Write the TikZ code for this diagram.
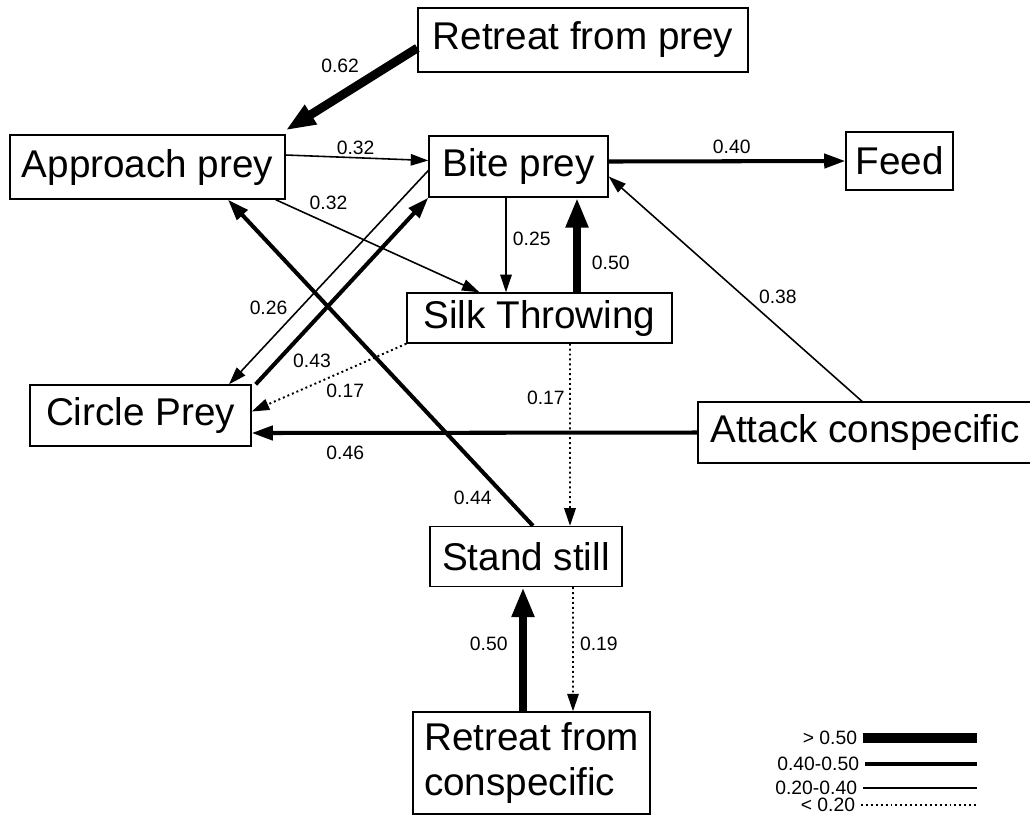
\documentclass[tikz,border=0pt]{standalone}
\usepackage{fontspec}
\setmainfont{Liberation Sans}
\usetikzlibrary{arrows.meta,calc}
\newcommand{\boxfont}{\fontsize{22}{25.5}\selectfont}
\newcommand{\numfont}{\fontsize{11}{13}\selectfont}

\begin{document}
\begin{tikzpicture}[x=0.02cm,y=-0.02cm,
  box/.style={draw,line width=0.8pt,inner sep=0pt,font=\boxfont,align=center},
  num/.style={font=\numfont,inner sep=1.5pt},
  p1/.style={line width=1.1pt,dash pattern=on 1.1pt off 1.7pt,-{Triangle[length=10pt,width=6.5pt]}},
  p2/.style={line width=0.9pt,-{Triangle[length=10pt,width=6.5pt]}},
  p3/.style={line width=2.3pt,-{Triangle[length=12pt,width=8pt]}},
  p4/.style={line width=5pt,-{Triangle[length=17pt,width=12pt]}}]
  \fill[white] (0,0) rectangle (1030,816);
  \useasboundingbox (0,0) rectangle (1030,816);
  \node[box,minimum width=6.6cm,minimum height=1.28cm] (rp) at (583,40) {Retreat from prey};
  \node[box,minimum width=5.5cm,minimum height=1.28cm] (ap) at (147.5,167) {Approach prey};
  \node[box,minimum width=3.58cm,minimum height=1.22cm] (bp) at (518.5,166.5) {Bite prey};
  \node[box,minimum width=2.14cm,minimum height=1.16cm] (fd) at (899.5,161) {Feed};
  \node[box,minimum width=5.3cm,minimum height=1cm] (st) at (539.5,318) {Silk Throwing};
  \node[box,minimum width=4.42cm,minimum height=1.22cm] (cp) at (140.5,415.5) {Circle Prey};
  \node[box,minimum width=6.68cm,minimum height=1.22cm] (ac) at (865,432.5) {Attack conspecific};
  \node[box,minimum width=3.84cm,minimum height=1.2cm] (ss) at (526,556.5) {Stand still};
  \node[box,align=left,minimum width=4.74cm,minimum height=2.04cm] (rc) at (531.5,763) {Retreat from\\conspecific};
  \draw[p4] ($(rp.west)+(0,8)$) -- ($(ap.north east)+(0,-4)$) node[num,pos=0.39,anchor=south east] {0.62};
  \draw[p2] ($(ap.east)+(0,-12)$) -- ($(bp.west)+(0,-6)$) node[num,pos=0.49,above] {0.32};
  \draw[p2] ($(ap.south east)+(-10,0)$) -- ($(st.north)+(-60,0)$) node[num,pos=0.15,anchor=south west] {0.32};
  \draw[p2] ($(bp.west)+(0,4)$) -- ($(cp.north)+(88.5,0)$) node[num,pos=0.69,anchor=south east] {0.26};
  \draw[p3] ($(cp.north east)+(4,0)$) -- (bp.south west) node[num,pos=0.19,anchor=north west] {0.43};
  \draw[p3] ($(ss.north)+(7,0)$) -- ($(ap.south)+(80.5,0)$) node[num,pos=0.086,left=6pt] {0.44};
  \draw[p2] ($(bp.south)+(-12.5,0)$) -- ($(st.north)+(-33.5,0)$) node[num,pos=0.44,right=2pt] {0.25};
  \draw[p4] ($(st.north)+(37.5,0)$) -- ($(bp.south)+(58.5,0)$) node[num,pos=0.31,right=4.5pt] {0.50};
  \draw[p3] ($(bp.east)+(0,-5)$) -- (fd.west) node[num,pos=0.52,above=1.5pt] {0.40};
  \draw[p2] ($(ac.north)+(-3,0)$) -- ($(bp.east)+(0,10)$) node[num,pos=0.42,anchor=south west] {0.38};
  \draw[p1] (st.south west) -- ($(cp.east)+(0,-4)$) node[num,pos=0.54,anchor=north west] {0.17};
  \draw[p3] (ac.west) -- ($(cp.east)+(0,17.5)$) node[num,pos=0.79,below=5pt] {0.46};
  \draw[p1] ($(st.south)+(30.5,0)$) -- ($(ss.north)+(44,0)$) node[num,pos=0.30,left=1pt] {0.17};
  \draw[p4] ($(rc.north)+(-8.5,0)$) -- ($(ss.south)+(-3,0)$) node[num,pos=0.54,left=4.8pt] {0.50};
  \draw[p1] ($(ss.south)+(47,0)$) -- ($(rc.north)+(41.5,0)$) node[num,pos=0.46,right=2pt] {0.19};
  \node[num,anchor=east] (l1) at (860,738) {> 0.50};
  \node[num,anchor=east] (l2) at (862,764) {0.40-0.50};
  \node[num,anchor=east] (l3) at (860,788) {0.20-0.40};
  \node[num,anchor=east] (l4) at (858,805) {< 0.20};
  \draw[line width=5.7pt] (l1.east) ++(3,0) -- ++(114,0);
  \draw[line width=2.3pt] (l2.east) ++(3,0) -- ++(112,0);
  \draw[line width=0.9pt] (l3.east) ++(3,0) -- ++(114,0);
  \draw[line width=1.1pt,dash pattern=on 1.1pt off 1.7pt] (l4.east) ++(3,0) -- ++(116,0);
\end{tikzpicture}
\end{document}
